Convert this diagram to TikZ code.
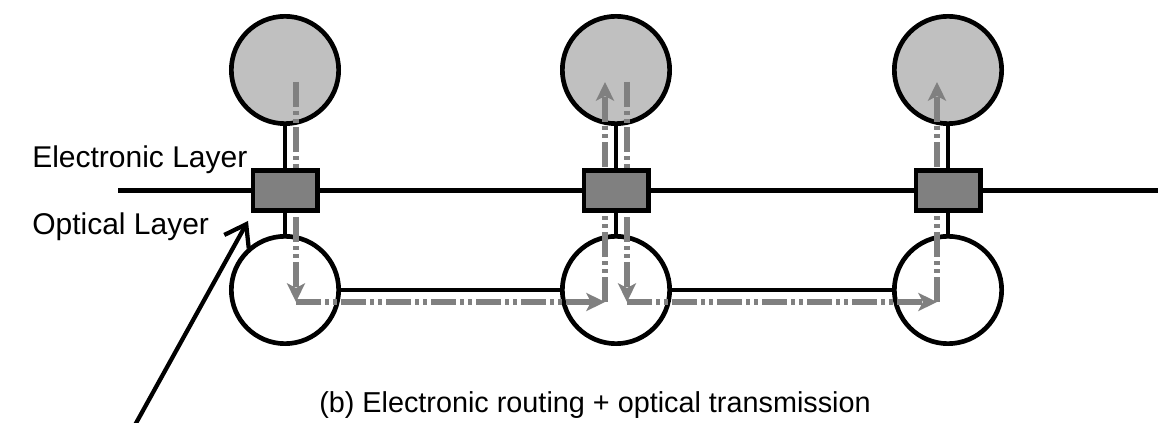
\documentclass[tikz,border=0pt]{standalone}
\usepackage{fontspec}
\setmainfont{Liberation Sans}
\usetikzlibrary{arrows.meta,calc}
\definecolor{lightg}{HTML}{C0C0C0}
\definecolor{midg}{HTML}{808080}
\begin{document}
\begin{tikzpicture}[x=0.75pt,y=-0.75pt,
  topnode/.style={circle, draw, line width=3.5pt, fill=lightg, minimum size=80.5pt, inner sep=0pt},
  optnode/.style={circle, draw, line width=3.5pt, fill=white, minimum size=80.5pt, inner sep=0pt},
  swbox/.style={draw, line width=3.5pt, fill=midg, minimum width=48.25pt, minimum height=30.25pt, inner sep=0pt},
  wire/.style={line width=3.2pt},
  flow/.style={line width=5pt, midg, dash pattern=on 18.75pt off 3pt on 3pt off 3pt on 3pt off 3pt,
     -{Stealth[length=14pt,width=13.5pt,inset=3.5pt]}},
  lbl/.style={font=\fontsize{22.5}{27}\selectfont, inner sep=0pt},
  caplbl/.style={font=\fontsize{21.6}{26}\selectfont, inner sep=0pt}]
\useasboundingbox (0,0) rectangle (1164,423);

% routers (electronic) and optical nodes
\node[topnode] (t1) at (285,70) {};
\node[topnode] (t2) at (616,70) {};
\node[topnode] (t3) at (948,70) {};
\node[optnode] (o1) at (285,290) {};
\node[optnode] (o2) at (616,290) {};
\node[optnode] (o3) at (948,290) {};

% flow coordinates
\coordinate (a1s) at ($(t1.center)+(11,12)$);
\coordinate (a1e) at ($(o1.center)+(11,12)$);
\coordinate (a2e) at ($(o2.center)+(-11,12)$);
\coordinate (a3e) at ($(t2.center)+(-11,12)$);
\coordinate (a4s) at ($(t2.center)+(11,12)$);
\coordinate (a4e) at ($(o2.center)+(11,12)$);
\coordinate (a5e) at ($(o3.center)+(-11,12)$);
\coordinate (a6e) at ($(t3.center)+(-11,12)$);

\draw[flow] (a1s) -- (a1e);
\draw[flow] (a1e) -- (a2e);
\draw[flow] (a2e) -- (a3e);
\draw[flow] (a4s) -- (a4e);
\draw[flow] (a4e) -- (a5e);
\draw[flow] (a5e) -- (a6e);

% interface boxes
\node[swbox] (b1) at (285,190.5) {};
\node[swbox] (b2) at (616,190.5) {};
\node[swbox] (b3) at (948,190.5) {};

% wires
\coordinate (lineL) at (118,190.5);
\coordinate (lineR) at (1158,190.5);
\draw[wire] (lineL) -- (b1) -- (b2) -- (b3) -- (lineR);
\draw[wire] (t1) -- (b1) -- (o1);
\draw[wire] (t2) -- (b2) -- (o2);
\draw[wire] (t3) -- (b3) -- (o3);
\draw[wire] (o1) -- (o2) -- (o3);

% labels
\node[lbl, anchor=base west] (el) at (32,168) {Electronic Layer};
\node[lbl, anchor=base west] (ol) at (32,235) {Optical Layer};
\node[caplbl, anchor=base west] (cap) at (319,413) {(b) Electronic routing + optical transmission};

% pointer
\coordinate (ps) at (135,425);
\coordinate (pt) at (248,221);
\draw[wire, -{Straight Barb[length=15pt,width=21pt]}] (ps) -- (pt);
\end{tikzpicture}
\end{document}
